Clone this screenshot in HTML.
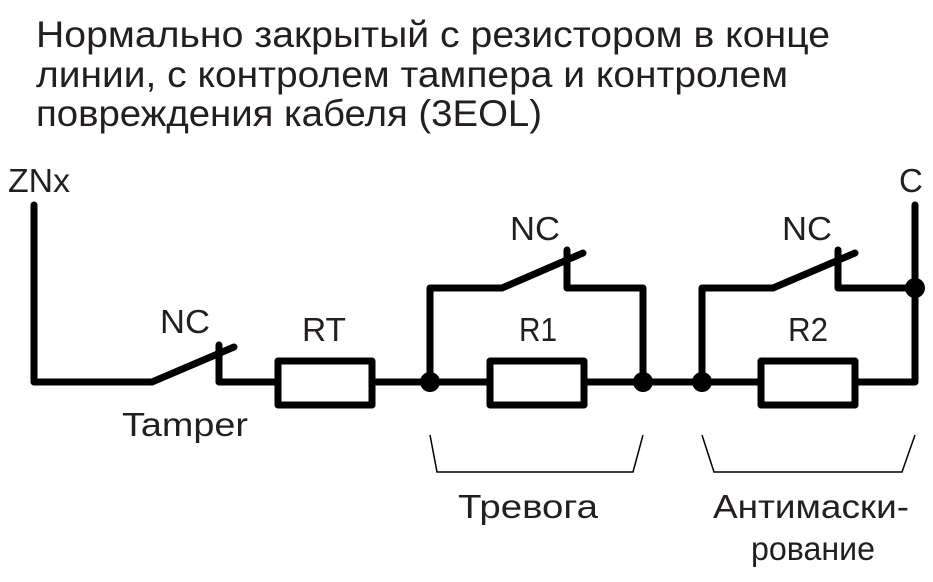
<!DOCTYPE html>
<html><head><meta charset="utf-8"><style>html,body{margin:0;padding:0;background:#fff}svg{display:block}</style></head>
<body>
<svg width="933" height="582" viewBox="0 0 933 582" xmlns="http://www.w3.org/2000/svg" font-family="'Liberation Sans', sans-serif" fill="#231f20">
<g font-size="37">
<text x="36" y="47" textLength="794" lengthAdjust="spacingAndGlyphs">Нормально закрытый с резистором в конце</text>
<text x="36" y="87" textLength="752" lengthAdjust="spacingAndGlyphs">линии, с контролем тампера и контролем</text>
<text x="36" y="126" textLength="506" lengthAdjust="spacingAndGlyphs">повреждения кабеля (3EOL)</text>
</g>
<g font-size="33">
<text x="8" y="192" textLength="62" lengthAdjust="spacingAndGlyphs">ZNx</text>
<text x="899" y="192">C</text>
<text x="160" y="333" textLength="50" lengthAdjust="spacingAndGlyphs">NC</text>
<text x="302" y="341" textLength="44" lengthAdjust="spacingAndGlyphs">RT</text>
<text x="510" y="240" textLength="50" lengthAdjust="spacingAndGlyphs">NC</text>
<text x="519" y="341" textLength="38" lengthAdjust="spacingAndGlyphs">R1</text>
<text x="782" y="240" textLength="50" lengthAdjust="spacingAndGlyphs">NC</text>
<text x="788" y="341" textLength="40" lengthAdjust="spacingAndGlyphs">R2</text>
<text x="122" y="436" textLength="126" lengthAdjust="spacingAndGlyphs">Tamper</text>
<text x="458" y="518" textLength="140" lengthAdjust="spacingAndGlyphs">Тревога</text>
<text x="713" y="518" textLength="196" lengthAdjust="spacingAndGlyphs">Антимаски-</text>
<text x="751" y="560" textLength="124" lengthAdjust="spacingAndGlyphs">рование</text>
</g>
<g fill="none" stroke="#000" stroke-width="7" stroke-linejoin="round" stroke-linecap="round">
<polyline points="34,205 34,382 152,382 234,347"/>
<polyline points="219,345 219,382 275,382"/>
<rect x="278" y="361" width="94" height="44"/>
<line x1="375" y1="382" x2="487" y2="382"/>
<rect x="490" y="361" width="94" height="44"/>
<line x1="587" y1="382" x2="758" y2="382"/>
<rect x="761" y="361" width="94" height="44"/>
<polyline points="858,382 915,382 915,205"/>
<polyline points="430,382 430,288 502,288 583,253"/>
<polyline points="567,250 567,288 643,288 643,382"/>
<polyline points="702,382 702,288 773,288 855,253"/>
<polyline points="838,250 838,288 915,288"/>
</g>
<g fill="#000">
<circle cx="430" cy="382" r="10"/><circle cx="643" cy="382" r="10"/>
<circle cx="702" cy="382" r="10"/><circle cx="915" cy="288" r="10"/>
</g>
<g fill="none" stroke="#000" stroke-width="1.5">
<polyline points="430,435 437,472 633,472 643,435"/>
<polyline points="702,435 714,472 902,472 915,435"/>
</g>
</svg>
</body></html>
